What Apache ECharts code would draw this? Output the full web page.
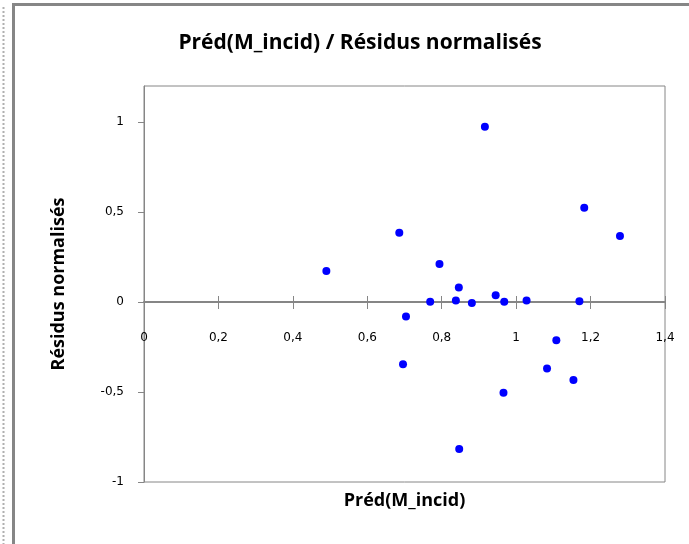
<!DOCTYPE html>
<html>
<head>
<meta charset="utf-8">
<script src="https://cdn.jsdelivr.net/npm/echarts@6/dist/echarts.min.js"></script>
<style>
html,body{margin:0;padding:0;background:#fff;}
#chart{width:689px;height:544px;}
</style>
</head>
<body>
<div id="chart"></div>
<script>
var titleText = 'Préd(M_incid) / Résidus normalisés';
var xName = 'Préd(M_incid)';
var yName = 'Résidus normalisés';
var predValues = [0.490, 0.686, 0.916, 1.183, 1.279, 0.794, 0.846, 0.769, 0.838, 0.881, 0.945, 0.968, 1.028, 1.170, 0.704, 0.696, 1.108, 1.083, 1.154, 0.966, 0.847];
var residValues = [0.172, 0.385, 0.974, 0.524, 0.367, 0.211, 0.080, 0.002, 0.009, -0.006, 0.037, 0.002, 0.009, 0.004, -0.081, -0.346, -0.213, -0.369, -0.433, -0.504, -0.817];
var yTicks = [-1, -0.5, 0, 0.5, 1];

var points = predValues.map(function (v, i) { return [v, residValues[i]]; });
function fmt(v) { return String(Math.round(v * 10) / 10).replace('.', ','); }

var gray = '#868686';
var labelFont = { fontFamily: 'DejaVu Sans', fontSize: 12, color: '#000' };
var zeroOffset = -180; // moves the x axis up to the y = 0 line

var chart = echarts.init(document.getElementById('chart'), null, { renderer: 'canvas' });
chart.setOption({
  animation: false,
  backgroundColor: '#fff',
  title: {
    text: titleText,
    left: 355, top: 28, textAlign: 'center',
    textStyle: { fontFamily: 'Open Sans', fontWeight: 'bold', fontSize: 21, color: '#000' }
  },
  grid: {
    left: 144, top: 86, right: 24, bottom: 62,
    show: true, borderColor: gray, borderWidth: 1, backgroundColor: 'transparent'
  },
  xAxis: [
    {
      type: 'value', min: 0, max: 1.4, interval: 0.2, position: 'bottom', offset: zeroOffset,
      axisLine: { show: true, onZero: false, lineStyle: { color: gray, width: 2 } },
      axisTick: { show: true, inside: false, length: 7, lineStyle: { color: gray, width: 1 } },
      axisLabel: Object.assign({ margin: 30, formatter: fmt }, labelFont),
      splitLine: { show: false }
    },
    {
      type: 'value', min: 0, max: 1.4, interval: 0.2, position: 'bottom', offset: zeroOffset,
      axisLine: { show: false, onZero: false },
      axisTick: { show: true, inside: true, length: 6, lineStyle: { color: gray, width: 1 } },
      axisLabel: { show: false },
      splitLine: { show: false }
    },
    {
      type: 'value', min: 0, max: 1.4, position: 'bottom',
      axisLine: { show: false, onZero: false },
      axisTick: { show: false }, axisLabel: { show: false }, splitLine: { show: false },
      name: xName, nameLocation: 'middle', nameGap: 10,
      nameTextStyle: { fontFamily: 'Open Sans', fontWeight: 'bold', fontSize: 18, color: '#000' }
    }
  ],
  yAxis: {
    type: 'value', min: -1, max: 1.2, interval: 0.5,
    axisLine: { show: true, onZero: false, lineStyle: { color: gray, width: 1 } },
    axisTick: { show: true, inside: false, length: 6, customValues: yTicks, lineStyle: { color: gray } },
    axisLabel: Object.assign({ margin: 20, customValues: yTicks, formatter: fmt }, labelFont),
    splitLine: { show: false },
    name: yName, nameLocation: 'middle', nameGap: 76, nameRotate: 90,
    nameTextStyle: { fontFamily: 'Open Sans', fontWeight: 'bold', fontSize: 18, color: '#000' }
  },
  graphic: [
    { type: 'line', shape: { x1: 13.5, y1: 3, x2: 13.5, y2: 544 }, style: { stroke: gray, lineWidth: 3 } },
    { type: 'line', shape: { x1: 12, y1: 4.5, x2: 689, y2: 4.5 }, style: { stroke: gray, lineWidth: 3 } },
    { type: 'line', shape: { x1: 3.5, y1: 7, x2: 3.5, y2: 544 }, style: { stroke: '#b0b0b0', lineWidth: 2, lineDash: [2, 2] } }
  ],
  series: [{
    type: 'scatter', xAxisIndex: 0, yAxisIndex: 0,
    data: points, symbol: 'circle', symbolSize: 8,
    itemStyle: { color: '#0000ff', opacity: 1 }
  }]
});
</script>
</body>
</html>
